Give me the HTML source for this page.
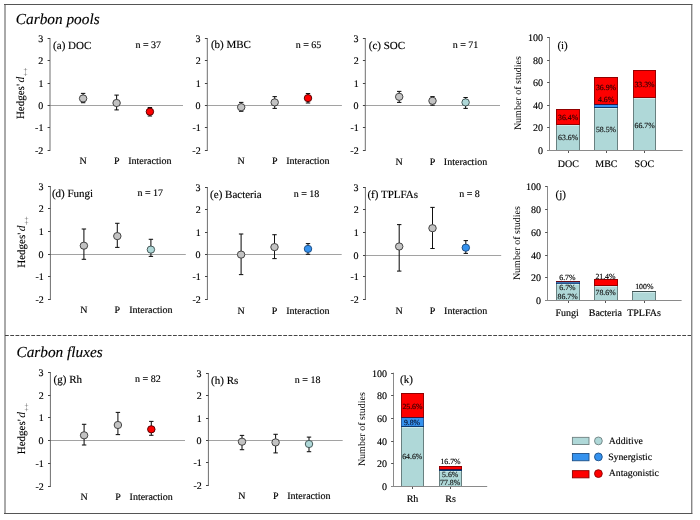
<!DOCTYPE html>
<html><head><meta charset="utf-8"><title>Carbon pools and fluxes</title>
<style>html,body{margin:0;padding:0;background:#fff;width:700px;height:520px;overflow:hidden}svg{display:block;text-rendering:geometricPrecision}</style>
</head><body>
<svg width="700" height="520" viewBox="0 0 700 520" font-family="'Liberation Serif','Times New Roman',serif">
<rect x="0" y="0" width="700" height="520" fill="#fff"/>
<line x1="4" y1="4.5" x2="692.3" y2="4.5" stroke="#555" stroke-width="1"/>
<line x1="4" y1="513.5" x2="692.3" y2="513.5" stroke="#555" stroke-width="1"/>
<line x1="5" y1="4" x2="5" y2="514" stroke="#555" stroke-width="1"/>
<line x1="691.8" y1="4" x2="691.8" y2="514" stroke="#555" stroke-width="1"/>
<line x1="5" y1="335.5" x2="691" y2="335.5" stroke="#444" stroke-width="1" stroke-dasharray="3.8 1.45"/>
<text x="15.86" y="23.6" font-size="15.3" fill="#000" stroke="#000" stroke-width="0.15" font-style="italic">Carbon pools</text>
<text x="16.46" y="357.2" font-size="15.3" fill="#000" stroke="#000" stroke-width="0.15" font-style="italic">Carbon fluxes</text>
<line x1="50" y1="105.5" x2="183" y2="105.5" stroke="#a2a2a2" stroke-width="1"/>
<line x1="50" y1="38" x2="50" y2="151" stroke="#6e6e6e" stroke-width="1"/>
<line x1="47.6" y1="38.5" x2="50" y2="38.5" stroke="#444" stroke-width="1"/>
<text x="38.2" y="41.75" font-size="10" fill="#000" stroke="#000" stroke-width="0.15">3</text>
<line x1="47.6" y1="60.5" x2="50" y2="60.5" stroke="#444" stroke-width="1"/>
<text x="38.35" y="63.75" font-size="10" fill="#000" stroke="#000" stroke-width="0.15">2</text>
<line x1="47.6" y1="83.5" x2="50" y2="83.5" stroke="#444" stroke-width="1"/>
<text x="38.4" y="86.75" font-size="10" fill="#000" stroke="#000" stroke-width="0.15">1</text>
<line x1="47.6" y1="105.5" x2="50" y2="105.5" stroke="#444" stroke-width="1"/>
<text x="38.17" y="108.75" font-size="10" fill="#000" stroke="#000" stroke-width="0.15">0</text>
<line x1="47.6" y1="127.5" x2="50" y2="127.5" stroke="#444" stroke-width="1"/>
<text x="35.07" y="130.75" font-size="10" fill="#000" stroke="#000" stroke-width="0.15">-1</text>
<line x1="47.6" y1="150.5" x2="50" y2="150.5" stroke="#444" stroke-width="1"/>
<text x="35.02" y="153.75" font-size="10" fill="#000" stroke="#000" stroke-width="0.15">-2</text>
<text x="53.11" y="48.6" font-size="11" fill="#000" stroke="#000" stroke-width="0.15">(a) DOC</text>
<text x="135.47" y="47.7" font-size="10" fill="#000" stroke="#000" stroke-width="0.15">n = 37</text>
<text x="79.45" y="164.1" font-size="10" fill="#000" stroke="#000" stroke-width="0.15">N</text>
<text x="113.88" y="164.1" font-size="10" fill="#000" stroke="#000" stroke-width="0.15">P</text>
<text x="128.15" y="164.1" font-size="10" fill="#000" stroke="#000" stroke-width="0.15">Interaction</text>
<line x1="83.1" y1="93.4" x2="83.1" y2="102.7" stroke="#111" stroke-width="1.05"/>
<line x1="80.9" y1="93.4" x2="85.3" y2="93.4" stroke="#111" stroke-width="1.05"/>
<line x1="80.9" y1="102.7" x2="85.3" y2="102.7" stroke="#111" stroke-width="1.05"/>
<ellipse cx="83.1" cy="98.45" rx="3.75" ry="3.6" fill="#c3c3c3" stroke="#3c3c3c" stroke-width="0.95"/>
<line x1="116.6" y1="95.1" x2="116.6" y2="109.9" stroke="#111" stroke-width="1.05"/>
<line x1="114.4" y1="95.1" x2="118.8" y2="95.1" stroke="#111" stroke-width="1.05"/>
<line x1="114.4" y1="109.9" x2="118.8" y2="109.9" stroke="#111" stroke-width="1.05"/>
<ellipse cx="116.6" cy="103" rx="3.75" ry="3.6" fill="#c3c3c3" stroke="#3c3c3c" stroke-width="0.95"/>
<line x1="149.9" y1="107.5" x2="149.9" y2="116" stroke="#111" stroke-width="1.05"/>
<line x1="147.7" y1="107.5" x2="152.1" y2="107.5" stroke="#111" stroke-width="1.05"/>
<line x1="147.7" y1="116" x2="152.1" y2="116" stroke="#111" stroke-width="1.05"/>
<ellipse cx="149.9" cy="111.7" rx="3.75" ry="3.6" fill="#fe0000" stroke="#500000" stroke-width="0.95"/>
<line x1="207.3" y1="105.5" x2="341.9" y2="105.5" stroke="#a2a2a2" stroke-width="1"/>
<line x1="207.3" y1="38" x2="207.3" y2="151" stroke="#6e6e6e" stroke-width="1"/>
<line x1="204.9" y1="38.5" x2="207.3" y2="38.5" stroke="#444" stroke-width="1"/>
<text x="195.5" y="41.75" font-size="10" fill="#000" stroke="#000" stroke-width="0.15">3</text>
<line x1="204.9" y1="60.5" x2="207.3" y2="60.5" stroke="#444" stroke-width="1"/>
<text x="195.65" y="63.75" font-size="10" fill="#000" stroke="#000" stroke-width="0.15">2</text>
<line x1="204.9" y1="83.5" x2="207.3" y2="83.5" stroke="#444" stroke-width="1"/>
<text x="195.7" y="86.75" font-size="10" fill="#000" stroke="#000" stroke-width="0.15">1</text>
<line x1="204.9" y1="105.5" x2="207.3" y2="105.5" stroke="#444" stroke-width="1"/>
<text x="195.48" y="108.75" font-size="10" fill="#000" stroke="#000" stroke-width="0.15">0</text>
<line x1="204.9" y1="127.5" x2="207.3" y2="127.5" stroke="#444" stroke-width="1"/>
<text x="192.38" y="130.75" font-size="10" fill="#000" stroke="#000" stroke-width="0.15">-1</text>
<line x1="204.9" y1="150.5" x2="207.3" y2="150.5" stroke="#444" stroke-width="1"/>
<text x="192.33" y="153.75" font-size="10" fill="#000" stroke="#000" stroke-width="0.15">-2</text>
<text x="210.91" y="48.4" font-size="11" fill="#000" stroke="#000" stroke-width="0.15">(b) MBC</text>
<text x="295.67" y="47.7" font-size="10" fill="#000" stroke="#000" stroke-width="0.15">n = 65</text>
<text x="237.55" y="164.3" font-size="10" fill="#000" stroke="#000" stroke-width="0.15">N</text>
<text x="271.97" y="164.3" font-size="10" fill="#000" stroke="#000" stroke-width="0.15">P</text>
<text x="286.25" y="164.3" font-size="10" fill="#000" stroke="#000" stroke-width="0.15">Interaction</text>
<line x1="241.2" y1="102.4" x2="241.2" y2="111.3" stroke="#111" stroke-width="1.05"/>
<line x1="239" y1="102.4" x2="243.4" y2="102.4" stroke="#111" stroke-width="1.05"/>
<line x1="239" y1="111.3" x2="243.4" y2="111.3" stroke="#111" stroke-width="1.05"/>
<ellipse cx="241.2" cy="107.2" rx="3.75" ry="3.6" fill="#c3c3c3" stroke="#3c3c3c" stroke-width="0.95"/>
<line x1="274.7" y1="96.6" x2="274.7" y2="108.4" stroke="#111" stroke-width="1.05"/>
<line x1="272.5" y1="96.6" x2="276.9" y2="96.6" stroke="#111" stroke-width="1.05"/>
<line x1="272.5" y1="108.4" x2="276.9" y2="108.4" stroke="#111" stroke-width="1.05"/>
<ellipse cx="274.7" cy="102.4" rx="3.75" ry="3.6" fill="#c3c3c3" stroke="#3c3c3c" stroke-width="0.95"/>
<line x1="308" y1="93.5" x2="308" y2="103" stroke="#111" stroke-width="1.05"/>
<line x1="305.8" y1="93.5" x2="310.2" y2="93.5" stroke="#111" stroke-width="1.05"/>
<line x1="305.8" y1="103" x2="310.2" y2="103" stroke="#111" stroke-width="1.05"/>
<ellipse cx="308" cy="98.1" rx="3.75" ry="3.6" fill="#fe0000" stroke="#500000" stroke-width="0.95"/>
<line x1="365.3" y1="105.5" x2="500" y2="105.5" stroke="#a2a2a2" stroke-width="1"/>
<line x1="365.3" y1="38" x2="365.3" y2="151" stroke="#6e6e6e" stroke-width="1"/>
<line x1="362.9" y1="38.5" x2="365.3" y2="38.5" stroke="#444" stroke-width="1"/>
<text x="353.5" y="41.75" font-size="10" fill="#000" stroke="#000" stroke-width="0.15">3</text>
<line x1="362.9" y1="60.5" x2="365.3" y2="60.5" stroke="#444" stroke-width="1"/>
<text x="353.65" y="63.75" font-size="10" fill="#000" stroke="#000" stroke-width="0.15">2</text>
<line x1="362.9" y1="83.5" x2="365.3" y2="83.5" stroke="#444" stroke-width="1"/>
<text x="353.7" y="86.75" font-size="10" fill="#000" stroke="#000" stroke-width="0.15">1</text>
<line x1="362.9" y1="105.5" x2="365.3" y2="105.5" stroke="#444" stroke-width="1"/>
<text x="353.48" y="108.75" font-size="10" fill="#000" stroke="#000" stroke-width="0.15">0</text>
<line x1="362.9" y1="127.5" x2="365.3" y2="127.5" stroke="#444" stroke-width="1"/>
<text x="350.38" y="130.75" font-size="10" fill="#000" stroke="#000" stroke-width="0.15">-1</text>
<line x1="362.9" y1="150.5" x2="365.3" y2="150.5" stroke="#444" stroke-width="1"/>
<text x="350.33" y="153.75" font-size="10" fill="#000" stroke="#000" stroke-width="0.15">-2</text>
<text x="368.81" y="48.6" font-size="11" fill="#000" stroke="#000" stroke-width="0.15">(c) SOC</text>
<text x="452.67" y="47.7" font-size="10" fill="#000" stroke="#000" stroke-width="0.15">n = 71</text>
<text x="395.55" y="164.5" font-size="10" fill="#000" stroke="#000" stroke-width="0.15">N</text>
<text x="429.77" y="164.5" font-size="10" fill="#000" stroke="#000" stroke-width="0.15">P</text>
<text x="443.85" y="164.5" font-size="10" fill="#000" stroke="#000" stroke-width="0.15">Interaction</text>
<line x1="399.2" y1="91.4" x2="399.2" y2="102.4" stroke="#111" stroke-width="1.05"/>
<line x1="397" y1="91.4" x2="401.4" y2="91.4" stroke="#111" stroke-width="1.05"/>
<line x1="397" y1="102.4" x2="401.4" y2="102.4" stroke="#111" stroke-width="1.05"/>
<ellipse cx="399.2" cy="96.8" rx="3.75" ry="3.6" fill="#c3c3c3" stroke="#3c3c3c" stroke-width="0.95"/>
<line x1="432.5" y1="96.6" x2="432.5" y2="105.2" stroke="#111" stroke-width="1.05"/>
<line x1="430.3" y1="96.6" x2="434.7" y2="96.6" stroke="#111" stroke-width="1.05"/>
<line x1="430.3" y1="105.2" x2="434.7" y2="105.2" stroke="#111" stroke-width="1.05"/>
<ellipse cx="432.5" cy="100.8" rx="3.75" ry="3.6" fill="#c3c3c3" stroke="#3c3c3c" stroke-width="0.95"/>
<line x1="465.6" y1="97.5" x2="465.6" y2="108.4" stroke="#111" stroke-width="1.05"/>
<line x1="463.4" y1="97.5" x2="467.8" y2="97.5" stroke="#111" stroke-width="1.05"/>
<line x1="463.4" y1="108.4" x2="467.8" y2="108.4" stroke="#111" stroke-width="1.05"/>
<ellipse cx="465.6" cy="102.4" rx="3.75" ry="3.6" fill="#afd8d8" stroke="#3f5252" stroke-width="0.95"/>
<line x1="50.4" y1="254.5" x2="185.8" y2="254.5" stroke="#a2a2a2" stroke-width="1"/>
<line x1="50.4" y1="186" x2="50.4" y2="300" stroke="#6e6e6e" stroke-width="1"/>
<line x1="48" y1="186.5" x2="50.4" y2="186.5" stroke="#444" stroke-width="1"/>
<text x="38.6" y="189.75" font-size="10" fill="#000" stroke="#000" stroke-width="0.15">3</text>
<line x1="48" y1="208.5" x2="50.4" y2="208.5" stroke="#444" stroke-width="1"/>
<text x="38.75" y="211.75" font-size="10" fill="#000" stroke="#000" stroke-width="0.15">2</text>
<line x1="48" y1="231.5" x2="50.4" y2="231.5" stroke="#444" stroke-width="1"/>
<text x="38.8" y="234.75" font-size="10" fill="#000" stroke="#000" stroke-width="0.15">1</text>
<line x1="48" y1="254.5" x2="50.4" y2="254.5" stroke="#444" stroke-width="1"/>
<text x="38.57" y="257.75" font-size="10" fill="#000" stroke="#000" stroke-width="0.15">0</text>
<line x1="48" y1="276.5" x2="50.4" y2="276.5" stroke="#444" stroke-width="1"/>
<text x="35.47" y="279.75" font-size="10" fill="#000" stroke="#000" stroke-width="0.15">-1</text>
<line x1="48" y1="299.5" x2="50.4" y2="299.5" stroke="#444" stroke-width="1"/>
<text x="35.42" y="302.75" font-size="10" fill="#000" stroke="#000" stroke-width="0.15">-2</text>
<text x="51.91" y="196.6" font-size="11" fill="#000" stroke="#000" stroke-width="0.15">(d) Fungi</text>
<text x="137.47" y="196" font-size="10" fill="#000" stroke="#000" stroke-width="0.15">n = 17</text>
<text x="80.25" y="312.9" font-size="10" fill="#000" stroke="#000" stroke-width="0.15">N</text>
<text x="114.58" y="312.9" font-size="10" fill="#000" stroke="#000" stroke-width="0.15">P</text>
<text x="129.15" y="312.9" font-size="10" fill="#000" stroke="#000" stroke-width="0.15">Interaction</text>
<line x1="83.9" y1="229" x2="83.9" y2="259.3" stroke="#111" stroke-width="1.05"/>
<line x1="81.7" y1="229" x2="86.1" y2="229" stroke="#111" stroke-width="1.05"/>
<line x1="81.7" y1="259.3" x2="86.1" y2="259.3" stroke="#111" stroke-width="1.05"/>
<ellipse cx="83.9" cy="245.7" rx="3.75" ry="3.6" fill="#c3c3c3" stroke="#3c3c3c" stroke-width="0.95"/>
<line x1="117.3" y1="223.3" x2="117.3" y2="247.4" stroke="#111" stroke-width="1.05"/>
<line x1="115.1" y1="223.3" x2="119.5" y2="223.3" stroke="#111" stroke-width="1.05"/>
<line x1="115.1" y1="247.4" x2="119.5" y2="247.4" stroke="#111" stroke-width="1.05"/>
<ellipse cx="117.3" cy="236.1" rx="3.75" ry="3.6" fill="#c3c3c3" stroke="#3c3c3c" stroke-width="0.95"/>
<line x1="150.9" y1="239.3" x2="150.9" y2="256.4" stroke="#111" stroke-width="1.05"/>
<line x1="148.7" y1="239.3" x2="153.1" y2="239.3" stroke="#111" stroke-width="1.05"/>
<line x1="148.7" y1="256.4" x2="153.1" y2="256.4" stroke="#111" stroke-width="1.05"/>
<ellipse cx="150.9" cy="249.6" rx="3.75" ry="3.6" fill="#afd8d8" stroke="#3f5252" stroke-width="0.95"/>
<line x1="207.4" y1="254.5" x2="341.7" y2="254.5" stroke="#a2a2a2" stroke-width="1"/>
<line x1="207.4" y1="187" x2="207.4" y2="300" stroke="#6e6e6e" stroke-width="1"/>
<line x1="205" y1="187.5" x2="207.4" y2="187.5" stroke="#444" stroke-width="1"/>
<text x="195.6" y="190.75" font-size="10" fill="#000" stroke="#000" stroke-width="0.15">3</text>
<line x1="205" y1="209.5" x2="207.4" y2="209.5" stroke="#444" stroke-width="1"/>
<text x="195.75" y="212.75" font-size="10" fill="#000" stroke="#000" stroke-width="0.15">2</text>
<line x1="205" y1="232.5" x2="207.4" y2="232.5" stroke="#444" stroke-width="1"/>
<text x="195.8" y="235.75" font-size="10" fill="#000" stroke="#000" stroke-width="0.15">1</text>
<line x1="205" y1="254.5" x2="207.4" y2="254.5" stroke="#444" stroke-width="1"/>
<text x="195.58" y="257.75" font-size="10" fill="#000" stroke="#000" stroke-width="0.15">0</text>
<line x1="205" y1="276.5" x2="207.4" y2="276.5" stroke="#444" stroke-width="1"/>
<text x="192.48" y="279.75" font-size="10" fill="#000" stroke="#000" stroke-width="0.15">-1</text>
<line x1="205" y1="299.5" x2="207.4" y2="299.5" stroke="#444" stroke-width="1"/>
<text x="192.43" y="302.75" font-size="10" fill="#000" stroke="#000" stroke-width="0.15">-2</text>
<text x="210.1" y="197.9" font-size="11" fill="#000" stroke="#000" stroke-width="0.15">(e) Bacteria</text>
<text x="293.67" y="197.4" font-size="10" fill="#000" stroke="#000" stroke-width="0.15">n = 18</text>
<text x="237.45" y="313.5" font-size="10" fill="#000" stroke="#000" stroke-width="0.15">N</text>
<text x="271.77" y="313.5" font-size="10" fill="#000" stroke="#000" stroke-width="0.15">P</text>
<text x="286.25" y="313.5" font-size="10" fill="#000" stroke="#000" stroke-width="0.15">Interaction</text>
<line x1="241.1" y1="234" x2="241.1" y2="274.6" stroke="#111" stroke-width="1.05"/>
<line x1="238.9" y1="234" x2="243.3" y2="234" stroke="#111" stroke-width="1.05"/>
<line x1="238.9" y1="274.6" x2="243.3" y2="274.6" stroke="#111" stroke-width="1.05"/>
<ellipse cx="241.1" cy="254.6" rx="3.75" ry="3.6" fill="#c3c3c3" stroke="#3c3c3c" stroke-width="0.95"/>
<line x1="274.5" y1="234.7" x2="274.5" y2="258.6" stroke="#111" stroke-width="1.05"/>
<line x1="272.3" y1="234.7" x2="276.7" y2="234.7" stroke="#111" stroke-width="1.05"/>
<line x1="272.3" y1="258.6" x2="276.7" y2="258.6" stroke="#111" stroke-width="1.05"/>
<ellipse cx="274.5" cy="247.1" rx="3.75" ry="3.6" fill="#c3c3c3" stroke="#3c3c3c" stroke-width="0.95"/>
<line x1="308" y1="243.6" x2="308" y2="254.3" stroke="#111" stroke-width="1.05"/>
<line x1="305.8" y1="243.6" x2="310.2" y2="243.6" stroke="#111" stroke-width="1.05"/>
<line x1="305.8" y1="254.3" x2="310.2" y2="254.3" stroke="#111" stroke-width="1.05"/>
<ellipse cx="308" cy="248.9" rx="3.75" ry="3.6" fill="#3592ee" stroke="#1b4a80" stroke-width="0.95"/>
<line x1="365.4" y1="255.5" x2="501.2" y2="255.5" stroke="#a2a2a2" stroke-width="1"/>
<line x1="365.4" y1="187" x2="365.4" y2="300" stroke="#6e6e6e" stroke-width="1"/>
<line x1="363" y1="187.5" x2="365.4" y2="187.5" stroke="#444" stroke-width="1"/>
<text x="353.6" y="190.75" font-size="10" fill="#000" stroke="#000" stroke-width="0.15">3</text>
<line x1="363" y1="209.5" x2="365.4" y2="209.5" stroke="#444" stroke-width="1"/>
<text x="353.75" y="212.75" font-size="10" fill="#000" stroke="#000" stroke-width="0.15">2</text>
<line x1="363" y1="232.5" x2="365.4" y2="232.5" stroke="#444" stroke-width="1"/>
<text x="353.8" y="235.75" font-size="10" fill="#000" stroke="#000" stroke-width="0.15">1</text>
<line x1="363" y1="255.5" x2="365.4" y2="255.5" stroke="#444" stroke-width="1"/>
<text x="353.57" y="258.75" font-size="10" fill="#000" stroke="#000" stroke-width="0.15">0</text>
<line x1="363" y1="276.5" x2="365.4" y2="276.5" stroke="#444" stroke-width="1"/>
<text x="350.47" y="279.75" font-size="10" fill="#000" stroke="#000" stroke-width="0.15">-1</text>
<line x1="363" y1="299.5" x2="365.4" y2="299.5" stroke="#444" stroke-width="1"/>
<text x="350.43" y="302.75" font-size="10" fill="#000" stroke="#000" stroke-width="0.15">-2</text>
<text x="367.4" y="198.4" font-size="11" fill="#000" stroke="#000" stroke-width="0.15">(f) TPLFAs</text>
<text x="459.17" y="197" font-size="10" fill="#000" stroke="#000" stroke-width="0.15">n = 8</text>
<text x="395.55" y="313.7" font-size="10" fill="#000" stroke="#000" stroke-width="0.15">N</text>
<text x="429.77" y="313.7" font-size="10" fill="#000" stroke="#000" stroke-width="0.15">P</text>
<text x="444.05" y="313.7" font-size="10" fill="#000" stroke="#000" stroke-width="0.15">Interaction</text>
<line x1="399.2" y1="224.6" x2="399.2" y2="271.1" stroke="#111" stroke-width="1.05"/>
<line x1="397" y1="224.6" x2="401.4" y2="224.6" stroke="#111" stroke-width="1.05"/>
<line x1="397" y1="271.1" x2="401.4" y2="271.1" stroke="#111" stroke-width="1.05"/>
<ellipse cx="399.2" cy="246.5" rx="3.75" ry="3.6" fill="#c3c3c3" stroke="#3c3c3c" stroke-width="0.95"/>
<line x1="432.5" y1="207.4" x2="432.5" y2="248.5" stroke="#111" stroke-width="1.05"/>
<line x1="430.3" y1="207.4" x2="434.7" y2="207.4" stroke="#111" stroke-width="1.05"/>
<line x1="430.3" y1="248.5" x2="434.7" y2="248.5" stroke="#111" stroke-width="1.05"/>
<ellipse cx="432.5" cy="228.2" rx="3.75" ry="3.6" fill="#c3c3c3" stroke="#3c3c3c" stroke-width="0.95"/>
<line x1="465.8" y1="240.6" x2="465.8" y2="253.4" stroke="#111" stroke-width="1.05"/>
<line x1="463.6" y1="240.6" x2="468" y2="240.6" stroke="#111" stroke-width="1.05"/>
<line x1="463.6" y1="253.4" x2="468" y2="253.4" stroke="#111" stroke-width="1.05"/>
<ellipse cx="465.8" cy="247.7" rx="3.75" ry="3.6" fill="#3592ee" stroke="#1b4a80" stroke-width="0.95"/>
<line x1="50.4" y1="440.5" x2="185" y2="440.5" stroke="#a2a2a2" stroke-width="1"/>
<line x1="50.4" y1="372" x2="50.4" y2="487" stroke="#6e6e6e" stroke-width="1"/>
<line x1="48" y1="372.5" x2="50.4" y2="372.5" stroke="#444" stroke-width="1"/>
<text x="38.6" y="375.75" font-size="10" fill="#000" stroke="#000" stroke-width="0.15">3</text>
<line x1="48" y1="395.5" x2="50.4" y2="395.5" stroke="#444" stroke-width="1"/>
<text x="38.75" y="398.75" font-size="10" fill="#000" stroke="#000" stroke-width="0.15">2</text>
<line x1="48" y1="417.5" x2="50.4" y2="417.5" stroke="#444" stroke-width="1"/>
<text x="38.8" y="420.75" font-size="10" fill="#000" stroke="#000" stroke-width="0.15">1</text>
<line x1="48" y1="440.5" x2="50.4" y2="440.5" stroke="#444" stroke-width="1"/>
<text x="38.57" y="443.75" font-size="10" fill="#000" stroke="#000" stroke-width="0.15">0</text>
<line x1="48" y1="463.5" x2="50.4" y2="463.5" stroke="#444" stroke-width="1"/>
<text x="35.47" y="466.75" font-size="10" fill="#000" stroke="#000" stroke-width="0.15">-1</text>
<line x1="48" y1="486.5" x2="50.4" y2="486.5" stroke="#444" stroke-width="1"/>
<text x="35.42" y="489.75" font-size="10" fill="#000" stroke="#000" stroke-width="0.15">-2</text>
<text x="53.61" y="383.4" font-size="11" fill="#000" stroke="#000" stroke-width="0.15">(g) Rh</text>
<text x="135.08" y="381.7" font-size="10" fill="#000" stroke="#000" stroke-width="0.15">n = 82</text>
<text x="80.45" y="500" font-size="10" fill="#000" stroke="#000" stroke-width="0.15">N</text>
<text x="115.18" y="500" font-size="10" fill="#000" stroke="#000" stroke-width="0.15">P</text>
<text x="129.55" y="500" font-size="10" fill="#000" stroke="#000" stroke-width="0.15">Interaction</text>
<line x1="84.1" y1="424.3" x2="84.1" y2="445" stroke="#111" stroke-width="1.05"/>
<line x1="81.9" y1="424.3" x2="86.3" y2="424.3" stroke="#111" stroke-width="1.05"/>
<line x1="81.9" y1="445" x2="86.3" y2="445" stroke="#111" stroke-width="1.05"/>
<ellipse cx="84.1" cy="435.3" rx="3.75" ry="3.6" fill="#c3c3c3" stroke="#3c3c3c" stroke-width="0.95"/>
<line x1="117.9" y1="412.4" x2="117.9" y2="434.6" stroke="#111" stroke-width="1.05"/>
<line x1="115.7" y1="412.4" x2="120.1" y2="412.4" stroke="#111" stroke-width="1.05"/>
<line x1="115.7" y1="434.6" x2="120.1" y2="434.6" stroke="#111" stroke-width="1.05"/>
<ellipse cx="117.9" cy="425" rx="3.75" ry="3.6" fill="#c3c3c3" stroke="#3c3c3c" stroke-width="0.95"/>
<line x1="151.3" y1="421.4" x2="151.3" y2="435.3" stroke="#111" stroke-width="1.05"/>
<line x1="149.1" y1="421.4" x2="153.5" y2="421.4" stroke="#111" stroke-width="1.05"/>
<line x1="149.1" y1="435.3" x2="153.5" y2="435.3" stroke="#111" stroke-width="1.05"/>
<ellipse cx="151.3" cy="429.3" rx="3.75" ry="3.6" fill="#fe0000" stroke="#500000" stroke-width="0.95"/>
<line x1="208.4" y1="440.5" x2="342.7" y2="440.5" stroke="#a2a2a2" stroke-width="1"/>
<line x1="208.4" y1="373" x2="208.4" y2="486" stroke="#6e6e6e" stroke-width="1"/>
<line x1="206" y1="373.5" x2="208.4" y2="373.5" stroke="#444" stroke-width="1"/>
<text x="196.6" y="376.75" font-size="10" fill="#000" stroke="#000" stroke-width="0.15">3</text>
<line x1="206" y1="395.5" x2="208.4" y2="395.5" stroke="#444" stroke-width="1"/>
<text x="196.75" y="398.75" font-size="10" fill="#000" stroke="#000" stroke-width="0.15">2</text>
<line x1="206" y1="418.5" x2="208.4" y2="418.5" stroke="#444" stroke-width="1"/>
<text x="196.8" y="421.75" font-size="10" fill="#000" stroke="#000" stroke-width="0.15">1</text>
<line x1="206" y1="440.5" x2="208.4" y2="440.5" stroke="#444" stroke-width="1"/>
<text x="196.58" y="443.75" font-size="10" fill="#000" stroke="#000" stroke-width="0.15">0</text>
<line x1="206" y1="462.5" x2="208.4" y2="462.5" stroke="#444" stroke-width="1"/>
<text x="193.48" y="465.75" font-size="10" fill="#000" stroke="#000" stroke-width="0.15">-1</text>
<line x1="206" y1="485.5" x2="208.4" y2="485.5" stroke="#444" stroke-width="1"/>
<text x="193.43" y="488.75" font-size="10" fill="#000" stroke="#000" stroke-width="0.15">-2</text>
<text x="211.1" y="383.7" font-size="11" fill="#000" stroke="#000" stroke-width="0.15">(h) Rs</text>
<text x="294.77" y="382.9" font-size="10" fill="#000" stroke="#000" stroke-width="0.15">n = 18</text>
<text x="238.35" y="499.3" font-size="10" fill="#000" stroke="#000" stroke-width="0.15">N</text>
<text x="272.88" y="499.3" font-size="10" fill="#000" stroke="#000" stroke-width="0.15">P</text>
<text x="287.25" y="499.3" font-size="10" fill="#000" stroke="#000" stroke-width="0.15">Interaction</text>
<line x1="242" y1="435.4" x2="242" y2="449.7" stroke="#111" stroke-width="1.05"/>
<line x1="239.8" y1="435.4" x2="244.2" y2="435.4" stroke="#111" stroke-width="1.05"/>
<line x1="239.8" y1="449.7" x2="244.2" y2="449.7" stroke="#111" stroke-width="1.05"/>
<ellipse cx="242" cy="441.7" rx="3.75" ry="3.6" fill="#c3c3c3" stroke="#3c3c3c" stroke-width="0.95"/>
<line x1="275.6" y1="434.3" x2="275.6" y2="452.9" stroke="#111" stroke-width="1.05"/>
<line x1="273.4" y1="434.3" x2="277.8" y2="434.3" stroke="#111" stroke-width="1.05"/>
<line x1="273.4" y1="452.9" x2="277.8" y2="452.9" stroke="#111" stroke-width="1.05"/>
<ellipse cx="275.6" cy="442.4" rx="3.75" ry="3.6" fill="#c3c3c3" stroke="#3c3c3c" stroke-width="0.95"/>
<line x1="309" y1="437.1" x2="309" y2="451.7" stroke="#111" stroke-width="1.05"/>
<line x1="306.8" y1="437.1" x2="311.2" y2="437.1" stroke="#111" stroke-width="1.05"/>
<line x1="306.8" y1="451.7" x2="311.2" y2="451.7" stroke="#111" stroke-width="1.05"/>
<ellipse cx="309" cy="444" rx="3.75" ry="3.6" fill="#afd8d8" stroke="#3f5252" stroke-width="0.95"/>
<g transform="translate(24,119.1) rotate(-90)">
<text x="0" y="0" font-size="11" stroke="#000" stroke-width="0.15">Hedges'</text>
<text x="36.57" y="0" font-size="11.6" font-style="italic">d</text>
<text x="42.87" y="3.7" font-size="7.6" fill="#444">++</text>
</g>
<g transform="translate(24.9,267.8) rotate(-90)">
<text x="0" y="0" font-size="11" stroke="#000" stroke-width="0.15">Hedges'</text>
<text x="36.57" y="0" font-size="11.6" font-style="italic">d</text>
<text x="42.87" y="3.7" font-size="7.6" fill="#444">++</text>
</g>
<g transform="translate(25,454.3) rotate(-90)">
<text x="0" y="0" font-size="11" stroke="#000" stroke-width="0.15">Hedges'</text>
<text x="36.57" y="0" font-size="11.6" font-style="italic">d</text>
<text x="42.87" y="3.7" font-size="7.6" fill="#444">++</text>
</g>
<rect x="556" y="124" width="24" height="27" fill="#afd8d8"/>
<rect x="556" y="109" width="24" height="16" fill="#fe0000"/>
<line x1="556.5" y1="124" x2="556.5" y2="151" stroke="#688080" stroke-width="1"/>
<line x1="579.5" y1="124" x2="579.5" y2="151" stroke="#688080" stroke-width="1"/>
<line x1="556.5" y1="109" x2="556.5" y2="125" stroke="#980000" stroke-width="1"/>
<line x1="579.5" y1="109" x2="579.5" y2="125" stroke="#980000" stroke-width="1"/>
<line x1="556" y1="124.5" x2="580" y2="124.5" stroke="#920000" stroke-width="1"/>
<line x1="557" y1="125.5" x2="579" y2="125.5" stroke="#cdeaea" stroke-width="1"/>
<line x1="556" y1="109.5" x2="580" y2="109.5" stroke="#920000" stroke-width="1"/>
<text x="558.09" y="140.03" font-size="7.8" fill="#151515" stroke="#151515" stroke-width="0.15">63.6%</text>
<text x="558.07" y="120.23" font-size="7.8" fill="#300000" stroke="#300000" stroke-width="0.15">36.4%</text>
<rect x="594" y="107" width="24" height="44" fill="#afd8d8"/>
<rect x="594" y="104" width="24" height="4" fill="#3592ee"/>
<rect x="594" y="77" width="24" height="28" fill="#fe0000"/>
<line x1="594.5" y1="107" x2="594.5" y2="151" stroke="#688080" stroke-width="1"/>
<line x1="617.5" y1="107" x2="617.5" y2="151" stroke="#688080" stroke-width="1"/>
<line x1="594.5" y1="104" x2="594.5" y2="108" stroke="#2a5a98" stroke-width="1"/>
<line x1="617.5" y1="104" x2="617.5" y2="108" stroke="#2a5a98" stroke-width="1"/>
<line x1="594.5" y1="77" x2="594.5" y2="105" stroke="#980000" stroke-width="1"/>
<line x1="617.5" y1="77" x2="617.5" y2="105" stroke="#980000" stroke-width="1"/>
<line x1="594" y1="107.5" x2="618" y2="107.5" stroke="#0c3a70" stroke-width="1"/>
<line x1="595" y1="108.5" x2="617" y2="108.5" stroke="#cdeaea" stroke-width="1"/>
<line x1="594" y1="104.5" x2="618" y2="104.5" stroke="#3a1440" stroke-width="1"/>
<line x1="594" y1="77.5" x2="618" y2="77.5" stroke="#920000" stroke-width="1"/>
<text x="595.93" y="132.28" font-size="7.8" fill="#151515" stroke="#151515" stroke-width="0.15">58.5%</text>
<text x="598.03" y="101.83" font-size="7.8" fill="#300000" stroke="#300000" stroke-width="0.15">4.6%</text>
<text x="595.97" y="90.13" font-size="7.8" fill="#300000" stroke="#300000" stroke-width="0.15">36.9%</text>
<rect x="633" y="97" width="23" height="54" fill="#afd8d8"/>
<rect x="633" y="70" width="23" height="28" fill="#fe0000"/>
<line x1="633.5" y1="97" x2="633.5" y2="151" stroke="#688080" stroke-width="1"/>
<line x1="655.5" y1="97" x2="655.5" y2="151" stroke="#688080" stroke-width="1"/>
<line x1="633.5" y1="70" x2="633.5" y2="98" stroke="#980000" stroke-width="1"/>
<line x1="655.5" y1="70" x2="655.5" y2="98" stroke="#980000" stroke-width="1"/>
<line x1="633" y1="97.5" x2="656" y2="97.5" stroke="#920000" stroke-width="1"/>
<line x1="634" y1="98.5" x2="655" y2="98.5" stroke="#cdeaea" stroke-width="1"/>
<line x1="633" y1="70.5" x2="656" y2="70.5" stroke="#920000" stroke-width="1"/>
<text x="634.49" y="127.53" font-size="7.8" fill="#151515" stroke="#151515" stroke-width="0.15">66.7%</text>
<text x="634.47" y="86.53" font-size="7.8" fill="#300000" stroke="#300000" stroke-width="0.15">33.3%</text>
<line x1="549.5" y1="37.2" x2="549.5" y2="151" stroke="#8a8a8a" stroke-width="1"/>
<line x1="547.1" y1="150.5" x2="549.5" y2="150.5" stroke="#555" stroke-width="1"/>
<text x="537.88" y="153.75" font-size="10" fill="#000" stroke="#000" stroke-width="0.15">0</text>
<line x1="547.1" y1="127.5" x2="549.5" y2="127.5" stroke="#555" stroke-width="1"/>
<text x="532.88" y="130.75" font-size="10" fill="#000" stroke="#000" stroke-width="0.15">20</text>
<line x1="547.1" y1="105.5" x2="549.5" y2="105.5" stroke="#555" stroke-width="1"/>
<text x="532.88" y="108.75" font-size="10" fill="#000" stroke="#000" stroke-width="0.15">40</text>
<line x1="547.1" y1="82.5" x2="549.5" y2="82.5" stroke="#555" stroke-width="1"/>
<text x="532.88" y="85.75" font-size="10" fill="#000" stroke="#000" stroke-width="0.15">60</text>
<line x1="547.1" y1="60.5" x2="549.5" y2="60.5" stroke="#555" stroke-width="1"/>
<text x="532.88" y="63.75" font-size="10" fill="#000" stroke="#000" stroke-width="0.15">80</text>
<line x1="547.1" y1="37.5" x2="549.5" y2="37.5" stroke="#555" stroke-width="1"/>
<text x="527.88" y="40.75" font-size="10" fill="#000" stroke="#000" stroke-width="0.15">100</text>
<line x1="547.1" y1="150.5" x2="682.7" y2="150.5" stroke="#8a8a8a" stroke-width="1"/>
<line x1="568.5" y1="151" x2="568.5" y2="153" stroke="#555" stroke-width="1"/>
<text x="557.86" y="166.5" font-size="10" fill="#000" stroke="#000" stroke-width="0.15">DOC</text>
<line x1="606.5" y1="151" x2="606.5" y2="153" stroke="#555" stroke-width="1"/>
<text x="595.31" y="166.5" font-size="10" fill="#000" stroke="#000" stroke-width="0.15">MBC</text>
<line x1="644.5" y1="151" x2="644.5" y2="153" stroke="#555" stroke-width="1"/>
<text x="634.61" y="166.5" font-size="10" fill="#000" stroke="#000" stroke-width="0.15">SOC</text>
<text x="557.4" y="49.2" font-size="11" fill="#000" stroke="#000" stroke-width="0.15">(i)</text>
<text transform="translate(521,130.1) rotate(-90)" font-size="10">Number of studies</text>
<rect x="556" y="283" width="24" height="18" fill="#afd8d8"/>
<rect x="556" y="281" width="24" height="3" fill="#3592ee"/>
<line x1="556.5" y1="283" x2="556.5" y2="301" stroke="#688080" stroke-width="1"/>
<line x1="579.5" y1="283" x2="579.5" y2="301" stroke="#688080" stroke-width="1"/>
<line x1="556.5" y1="281" x2="556.5" y2="284" stroke="#2a5a98" stroke-width="1"/>
<line x1="579.5" y1="281" x2="579.5" y2="284" stroke="#2a5a98" stroke-width="1"/>
<line x1="556" y1="283.5" x2="580" y2="283.5" stroke="#0c3a70" stroke-width="1"/>
<line x1="557" y1="284.5" x2="579" y2="284.5" stroke="#cdeaea" stroke-width="1"/>
<line x1="556" y1="281.5" x2="580" y2="281.5" stroke="#6a0a14" stroke-width="1"/>
<line x1="557" y1="282.5" x2="579" y2="282.5" stroke="#3f74b0" stroke-width="1"/>
<line x1="557" y1="283.5" x2="579" y2="283.5" stroke="#22548c" stroke-width="1"/>
<text x="557.61" y="298.74" font-size="7.8" fill="#151515" stroke="#151515" stroke-width="0.15">86.7%</text>
<text x="559.34" y="290.24" font-size="7.8" fill="#151515" stroke="#151515" stroke-width="0.15">6.7%</text>
<text x="559.24" y="279.99" font-size="7.8" fill="#000" stroke="#000" stroke-width="0.15">6.7%</text>
<rect x="594" y="285" width="24" height="16" fill="#afd8d8"/>
<rect x="594" y="279" width="24" height="7" fill="#fe0000"/>
<line x1="594.5" y1="285" x2="594.5" y2="301" stroke="#688080" stroke-width="1"/>
<line x1="617.5" y1="285" x2="617.5" y2="301" stroke="#688080" stroke-width="1"/>
<line x1="594.5" y1="279" x2="594.5" y2="286" stroke="#980000" stroke-width="1"/>
<line x1="617.5" y1="279" x2="617.5" y2="286" stroke="#980000" stroke-width="1"/>
<line x1="594" y1="285.5" x2="618" y2="285.5" stroke="#920000" stroke-width="1"/>
<line x1="595" y1="286.5" x2="617" y2="286.5" stroke="#cdeaea" stroke-width="1"/>
<line x1="594" y1="279.5" x2="618" y2="279.5" stroke="#920000" stroke-width="1"/>
<text x="595.5" y="295.44" font-size="7.8" fill="#151515" stroke="#151515" stroke-width="0.15">78.6%</text>
<text x="595.38" y="278.69" font-size="7.8" fill="#000" stroke="#000" stroke-width="0.15">21.4%</text>
<rect x="632" y="291" width="24" height="10" fill="#afd8d8"/>
<line x1="632.5" y1="291" x2="632.5" y2="301" stroke="#688080" stroke-width="1"/>
<line x1="655.5" y1="291" x2="655.5" y2="301" stroke="#688080" stroke-width="1"/>
<line x1="632" y1="291.5" x2="656" y2="291.5" stroke="#3d5050" stroke-width="1"/>
<line x1="633" y1="292.5" x2="655" y2="292.5" stroke="#cdeaea" stroke-width="1"/>
<text x="635.19" y="289.44" font-size="7.8" fill="#000" stroke="#000" stroke-width="0.15">100%</text>
<line x1="547.5" y1="186.3" x2="547.5" y2="301" stroke="#8a8a8a" stroke-width="1"/>
<line x1="545.1" y1="300.5" x2="547.5" y2="300.5" stroke="#555" stroke-width="1"/>
<text x="535.88" y="303.75" font-size="10" fill="#000" stroke="#000" stroke-width="0.15">0</text>
<line x1="545.1" y1="277.5" x2="547.5" y2="277.5" stroke="#555" stroke-width="1"/>
<text x="530.88" y="280.75" font-size="10" fill="#000" stroke="#000" stroke-width="0.15">20</text>
<line x1="545.1" y1="255.5" x2="547.5" y2="255.5" stroke="#555" stroke-width="1"/>
<text x="530.88" y="258.75" font-size="10" fill="#000" stroke="#000" stroke-width="0.15">40</text>
<line x1="545.1" y1="232.5" x2="547.5" y2="232.5" stroke="#555" stroke-width="1"/>
<text x="530.88" y="235.75" font-size="10" fill="#000" stroke="#000" stroke-width="0.15">60</text>
<line x1="545.1" y1="209.5" x2="547.5" y2="209.5" stroke="#555" stroke-width="1"/>
<text x="530.88" y="212.75" font-size="10" fill="#000" stroke="#000" stroke-width="0.15">80</text>
<line x1="545.1" y1="186.5" x2="547.5" y2="186.5" stroke="#555" stroke-width="1"/>
<text x="525.88" y="189.75" font-size="10" fill="#000" stroke="#000" stroke-width="0.15">100</text>
<line x1="545.1" y1="300.5" x2="681.6" y2="300.5" stroke="#8a8a8a" stroke-width="1"/>
<line x1="568.5" y1="301" x2="568.5" y2="303" stroke="#555" stroke-width="1"/>
<text x="555.57" y="315.7" font-size="10" fill="#000" stroke="#000" stroke-width="0.15">Fungi</text>
<line x1="605.5" y1="301" x2="605.5" y2="303" stroke="#555" stroke-width="1"/>
<text x="588.76" y="315.7" font-size="10" fill="#000" stroke="#000" stroke-width="0.15">Bacteria</text>
<line x1="644.5" y1="301" x2="644.5" y2="303" stroke="#555" stroke-width="1"/>
<text x="627.14" y="315.7" font-size="10" fill="#000" stroke="#000" stroke-width="0.15">TPLFAs</text>
<text x="555.61" y="197.6" font-size="11" fill="#000" stroke="#000" stroke-width="0.15">(j)</text>
<text transform="translate(520,280.1) rotate(-90)" font-size="10">Number of studies</text>
<rect x="401" y="426" width="23" height="61" fill="#afd8d8"/>
<rect x="401" y="417" width="23" height="10" fill="#3592ee"/>
<rect x="401" y="393" width="23" height="25" fill="#fe0000"/>
<line x1="401.5" y1="426" x2="401.5" y2="487" stroke="#688080" stroke-width="1"/>
<line x1="423.5" y1="426" x2="423.5" y2="487" stroke="#688080" stroke-width="1"/>
<line x1="401.5" y1="417" x2="401.5" y2="427" stroke="#2a5a98" stroke-width="1"/>
<line x1="423.5" y1="417" x2="423.5" y2="427" stroke="#2a5a98" stroke-width="1"/>
<line x1="401.5" y1="393" x2="401.5" y2="418" stroke="#980000" stroke-width="1"/>
<line x1="423.5" y1="393" x2="423.5" y2="418" stroke="#980000" stroke-width="1"/>
<line x1="401" y1="426.5" x2="424" y2="426.5" stroke="#0c3a70" stroke-width="1"/>
<line x1="402" y1="427.5" x2="423" y2="427.5" stroke="#cdeaea" stroke-width="1"/>
<line x1="401" y1="417.5" x2="424" y2="417.5" stroke="#3a1440" stroke-width="1"/>
<line x1="401" y1="393.5" x2="424" y2="393.5" stroke="#920000" stroke-width="1"/>
<text x="402.19" y="458.74" font-size="7.8" fill="#151515" stroke="#151515" stroke-width="0.15">64.6%</text>
<text x="403.88" y="424.84" font-size="7.8" fill="#0a1838" stroke="#0a1838" stroke-width="0.15">9.8%</text>
<text x="402.38" y="408.54" font-size="7.8" fill="#300000" stroke="#300000" stroke-width="0.15">25.6%</text>
<rect x="439" y="470" width="23" height="17" fill="#afd8d8"/>
<rect x="439" y="469" width="23" height="2" fill="#3592ee"/>
<rect x="439" y="466" width="23" height="4" fill="#fe0000"/>
<line x1="439.5" y1="470" x2="439.5" y2="487" stroke="#688080" stroke-width="1"/>
<line x1="461.5" y1="470" x2="461.5" y2="487" stroke="#688080" stroke-width="1"/>
<line x1="439.5" y1="469" x2="439.5" y2="471" stroke="#2a5a98" stroke-width="1"/>
<line x1="461.5" y1="469" x2="461.5" y2="471" stroke="#2a5a98" stroke-width="1"/>
<line x1="439.5" y1="466" x2="439.5" y2="470" stroke="#980000" stroke-width="1"/>
<line x1="461.5" y1="466" x2="461.5" y2="470" stroke="#980000" stroke-width="1"/>
<line x1="439" y1="470.5" x2="462" y2="470.5" stroke="#0c3a70" stroke-width="1"/>
<line x1="440" y1="471.5" x2="461" y2="471.5" stroke="#cdeaea" stroke-width="1"/>
<line x1="439" y1="469.5" x2="462" y2="469.5" stroke="#3a1440" stroke-width="1"/>
<line x1="439" y1="466.5" x2="462" y2="466.5" stroke="#920000" stroke-width="1"/>
<text x="440.1" y="485.14" font-size="7.8" fill="#151515" stroke="#151515" stroke-width="0.15">77.8%</text>
<text x="442.08" y="477.14" font-size="7.8" fill="#151515" stroke="#151515" stroke-width="0.15">5.6%</text>
<text x="440.46" y="464.09" font-size="7.8" fill="#000" stroke="#000" stroke-width="0.15">16.7%</text>
<line x1="393.5" y1="372.7" x2="393.5" y2="487" stroke="#8a8a8a" stroke-width="1"/>
<line x1="391.1" y1="486.5" x2="393.5" y2="486.5" stroke="#555" stroke-width="1"/>
<text x="381.88" y="489.75" font-size="10" fill="#000" stroke="#000" stroke-width="0.15">0</text>
<line x1="391.1" y1="463.5" x2="393.5" y2="463.5" stroke="#555" stroke-width="1"/>
<text x="376.88" y="466.75" font-size="10" fill="#000" stroke="#000" stroke-width="0.15">20</text>
<line x1="391.1" y1="441.5" x2="393.5" y2="441.5" stroke="#555" stroke-width="1"/>
<text x="376.88" y="444.75" font-size="10" fill="#000" stroke="#000" stroke-width="0.15">40</text>
<line x1="391.1" y1="418.5" x2="393.5" y2="418.5" stroke="#555" stroke-width="1"/>
<text x="376.88" y="421.75" font-size="10" fill="#000" stroke="#000" stroke-width="0.15">60</text>
<line x1="391.1" y1="395.5" x2="393.5" y2="395.5" stroke="#555" stroke-width="1"/>
<text x="376.88" y="398.75" font-size="10" fill="#000" stroke="#000" stroke-width="0.15">80</text>
<line x1="391.1" y1="373.5" x2="393.5" y2="373.5" stroke="#555" stroke-width="1"/>
<text x="371.88" y="376.75" font-size="10" fill="#000" stroke="#000" stroke-width="0.15">100</text>
<line x1="391.1" y1="486.5" x2="487.2" y2="486.5" stroke="#8a8a8a" stroke-width="1"/>
<line x1="412.5" y1="487" x2="412.5" y2="489" stroke="#555" stroke-width="1"/>
<text x="406.68" y="501.9" font-size="10" fill="#000" stroke="#000" stroke-width="0.15">Rh</text>
<line x1="450.5" y1="487" x2="450.5" y2="489" stroke="#555" stroke-width="1"/>
<text x="445.35" y="501.9" font-size="10" fill="#000" stroke="#000" stroke-width="0.15">Rs</text>
<text x="400.11" y="383.4" font-size="11" fill="#000" stroke="#000" stroke-width="0.15">(k)</text>
<text transform="translate(365.2,466.1) rotate(-90)" font-size="10">Number of studies</text>
<rect x="572.4" y="437.35" width="16.6" height="7.2" fill="#afd8d8" stroke="#6e8080" stroke-width="0.9"/>
<circle cx="598.4" cy="440.9" r="3.9" fill="#afd8d8" stroke="#6e8080" stroke-width="0.9"/>
<text x="608.7" y="444" font-size="9.8" fill="#000" stroke="#000" stroke-width="0.15">Additive</text>
<rect x="572.4" y="453.55" width="16.6" height="7.2" fill="#3592ee" stroke="#1c4f88" stroke-width="0.9"/>
<circle cx="598.4" cy="456.9" r="3.9" fill="#3592ee" stroke="#1c4f88" stroke-width="0.9"/>
<text x="608.14" y="459.9" font-size="9.8" fill="#000" stroke="#000" stroke-width="0.15">Synergistic</text>
<rect x="572.4" y="470.65" width="16.6" height="7.2" fill="#fe0000" stroke="#8a0000" stroke-width="0.9"/>
<circle cx="598.4" cy="473.6" r="3.9" fill="#fe0000" stroke="#8a0000" stroke-width="0.9"/>
<text x="608.7" y="476.4" font-size="9.8" fill="#000" stroke="#000" stroke-width="0.15">Antagonistic</text>
</svg>
</body></html>
